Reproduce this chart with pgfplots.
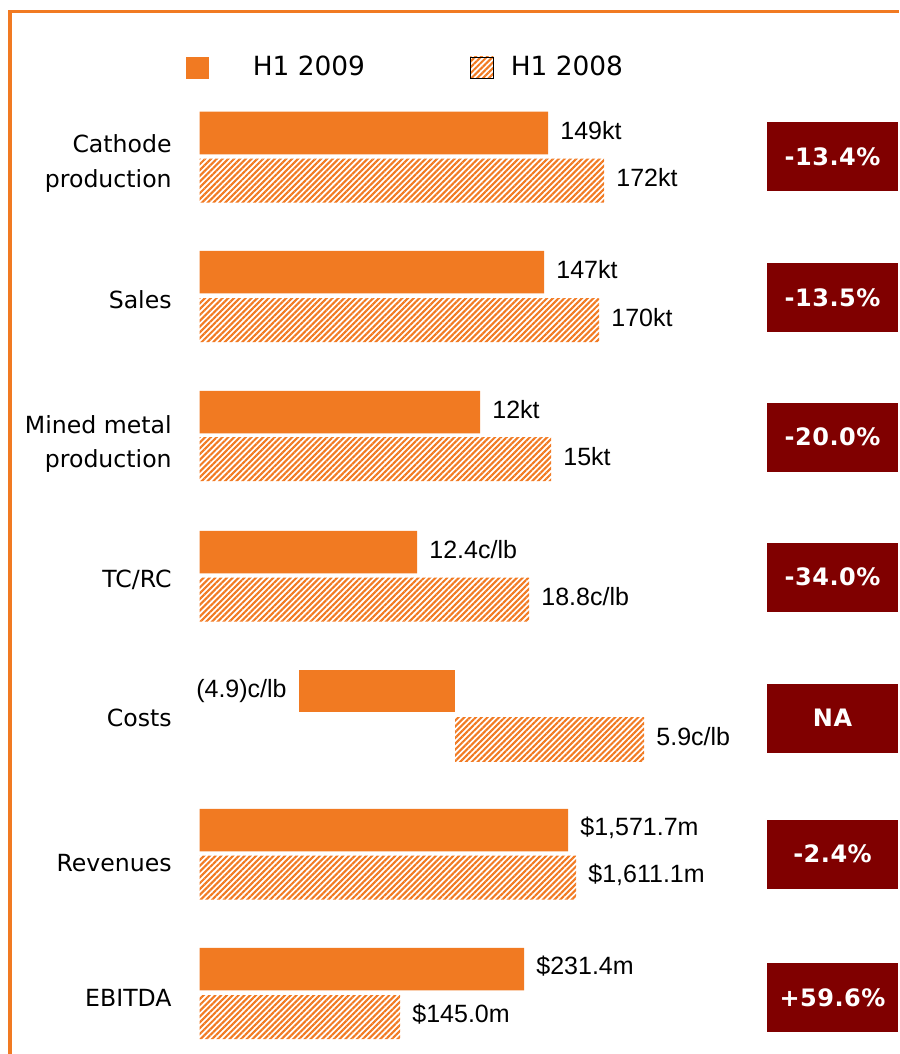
\documentclass[border=0pt]{standalone}
\usepackage{fontspec}
\setmainfont{DejaVu Sans}
\newfontfamily\arialf{Liberation Sans}
\newfontfamily\boxf[LetterSpace=2]{DejaVu Sans}
\usepackage{pgfplots}
\pgfplotsset{compat=1.18}
\usepackage{pgfplotstable}
\usetikzlibrary{patterns.meta}
\definecolor{cuorange}{HTML}{F17A22}
\definecolor{cured}{HTML}{800000}
\protected\def\USD{\$}

% bar lengths in picture units, measured from the common bar origin
\pgfplotstableread{
y len lab
133 348.5 149kt
272 344.5 147kt
412 280.5 12kt
552 217.5 12.4c/lb
830 368.5 \USD1,571.7m
969 324.5 \USD231.4m
}\tabA

\pgfplotstableread{
y len lab
180.5 404.5 172kt
320 399.5 170kt
459 351.5 15kt
599.5 329.5 18.8c/lb
877.5 376.5 \USD1,611.1m
1017 200.5 \USD145.0m
}\tabB

% costs row has its own origin
\pgfplotstableread{
y len lab
691 -156 (4.9)c/lb
}\costA
\pgfplotstableread{
y len lab
739 189 5.9c/lb
}\costB

\tikzset{hatch/.style={pattern={Lines[angle=45,distance=2.05pt,line width=1.05pt]},
    pattern color=cuorange}}
\pgfplotsset{
  base/.style={scale only axis, width=449.5pt, height=527pt,
    ymin=0, ymax=1054, y dir=reverse,
    enlargelimits=false, hide axis, clip=false, xbar, bar shift=0pt,
    at={(0,0)}, anchor=south west},
  vals/.style={nodes near coords, point meta=explicit symbolic,
    every node near coord/.append style={anchor=west, inner sep=0pt,
      xshift=6pt, yshift=1.3pt, text=black, font=\arialf\fontsize{12.5}{15}\selectfont}},
  valsleft/.style={nodes near coords, point meta=explicit symbolic,
    every node near coord/.append style={anchor=east, inner sep=0pt,
      xshift=-6pt, text=black, font=\arialf\fontsize{12.5}{15}\selectfont}},
}
\newcommand\catf{\fontsize{11.8}{14}\selectfont}
\newcommand\boxfont{\boxf\bfseries\fontsize{12}{14}\selectfont}

\begin{document}
\begin{tikzpicture}
\begin{axis}[base, xmin=-199.5, xmax=699.5,
  legend style={at={(axis cs:-13.5,67.5)}, anchor=west, draw=none, fill=none,
    inner sep=0pt, outer sep=0pt, legend columns=2,
    font=\fontsize{13.2}{15}\selectfont, nodes={inner sep=0pt},
    /tikz/column 1/.style={column sep=22pt},
    /tikz/column 2/.style={column sep=52.5pt},
    /tikz/column 3/.style={column sep=8.5pt}}]
\addlegendimage{legend image code/.code={\fill[cuorange] (0pt,-5.25pt) rectangle (11pt,5.25pt);}}
\addlegendimage{legend image code/.code={\fill[hatch] (0pt,-5.25pt) rectangle (11.5pt,5.25pt);}}
\legend{H1 2009, H1 2008}
\addplot[draw=none, fill=cuorange, bar width=42.5, vals] table[x=len, y=y, meta=lab]{\tabA};
\addplot[draw=none, hatch, bar width=44, vals] table[x=len, y=y, meta=lab]{\tabB};

% frame
\draw[cuorange, line width=1.8pt] (axis cs:-189.5,1054) -- (axis cs:-189.5,11.5) -- (axis cs:699.5,11.5);

% category labels
\begin{scope}[every node/.style={anchor=base east, inner sep=0pt, font=\catf}]
\node at (axis cs:-27.5,153) {Cathode};
\node at (axis cs:-27.5,187) {production};
\node at (axis cs:-27.5,308) {Sales};
\node at (axis cs:-27.5,433) {Mined metal};
\node at (axis cs:-27.5,467) {production};
\node at (axis cs:-27.5,587) {TC/RC};
\node at (axis cs:-27.5,726) {Costs};
\node at (axis cs:-27.5,871) {Revenues};
\node at (axis cs:-27.5,1006) {EBITDA};
\end{scope}

% change boxes
\begin{scope}[every node/.style={fill=cured, text=white, minimum width=65.5pt, minimum height=34.5pt, inner sep=0pt, font=\boxfont}]
\node at (axis cs:633,156.5) {-13.4\%};
\node at (axis cs:633,297.5) {-13.5\%};
\node at (axis cs:633,437) {-20.0\%};
\node at (axis cs:633,577) {-34.0\%};
\node at (axis cs:633,718) {NA};
\node at (axis cs:633,854) {-2.4\%};
\node at (axis cs:633,997.5) {+59.6\%};
\end{scope}
\end{axis}

\begin{axis}[base, xmin=-455, xmax=444]
\addplot[draw=none, fill=cuorange, bar width=42.5, valsleft] table[x=len, y=y, meta=lab]{\costA};
\addplot[draw=none, hatch, bar width=44, vals] table[x=len, y=y, meta=lab]{\costB};
\end{axis}
\pgfresetboundingbox
\path[use as bounding box] (0,0) rectangle (449.5pt,527pt);
\end{tikzpicture}
\end{document}
